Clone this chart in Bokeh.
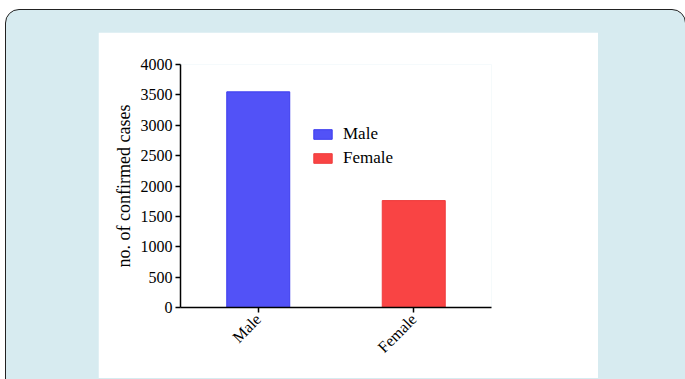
from bokeh.plotting import figure
from bokeh.models import ColumnDataSource, FactorRange, Range1d, Legend, LegendItem, FixedTicker
from bokeh.layouts import column
from bokeh.embed import file_html
from bokeh.resources import INLINE
import math

categories = ["Male", "Female"]
cases = [3550, 1760]
fill_colors = ["#5252f7", "#f94444"]
line_colors = ["#3c3cee", "#ee3c3c"]
y_ticks = [0, 500, 1000, 1500, 2000, 2500, 3000, 3500, 4000]

# white panel in page: x 98..598, y 33..379 ; frame in page: x 180..491, y 65..308
PW, PH = 500, 346
FL, FR, FT, FB = 82, 393, 32, 275

p = figure(width=PW, height=PH, x_range=FactorRange(factors=categories, range_padding=0),
           y_range=Range1d(0, 4000), output_backend="svg", toolbar_location=None,
           min_border_left=FL, min_border_right=PW - FR, min_border_top=FT, min_border_bottom=PH - FB)
p.border_fill_color = "white"
p.background_fill_color = "white"
p.outline_line_color = None
p.xgrid.visible = False
p.ygrid.visible = False

src = ColumnDataSource(dict(cat=categories, val=cases, fc=fill_colors, lc=line_colors))
r = p.vbar(x="cat", top="val", width=0.405, source=src, fill_color="fc", line_color="lc", line_width=1)

font = "Liberation Serif"
legend = Legend(items=[LegendItem(label=categories[i], renderers=[r], index=i) for i in range(len(categories))],
                location=(131, 139), padding=0, margin=0, spacing=4, glyph_width=23, glyph_height=12,
                label_height=12, label_standoff=9, border_line_color=None, background_fill_alpha=0,
                label_text_font=font, label_text_font_size="17px", label_text_color="black")
p.add_layout(legend, "center")

for ax in (p.xaxis[0], p.yaxis[0]):
    ax.axis_line_color = "black"
    ax.axis_line_width = 1.5
    ax.major_tick_line_color = "black"
    ax.major_tick_line_width = 1.5
    ax.major_tick_in = 0
    ax.major_tick_out = 5
    ax.minor_tick_line_color = None
    ax.major_label_text_font = font
    ax.major_label_text_font_size = "16px"
    ax.major_label_text_color = "black"

p.yaxis.ticker = FixedTicker(ticks=y_ticks)
p.yaxis.major_label_standoff = 3
p.yaxis.axis_label = "no. of confirmed cases"
p.yaxis.axis_label_text_font = font
p.yaxis.axis_label_text_font_size = "18px"
p.yaxis.axis_label_text_font_style = "normal"
p.yaxis.axis_label_text_color = "black"
p.yaxis.axis_label_standoff = 4
p.xaxis.major_label_orientation = math.pi / 4
p.xaxis.major_label_standoff = 4

p.margin = (22, 0, 0, 92)
layout = column(p, width=681, height=400, margin=(9, 0, 0, 5),
                styles={"background-color": "#d7ebf0", "border": "1.5px solid #222222",
                        "border-radius": "14px", "box-sizing": "border-box"})

open("out.html", "w").write(file_html(layout, INLINE))
